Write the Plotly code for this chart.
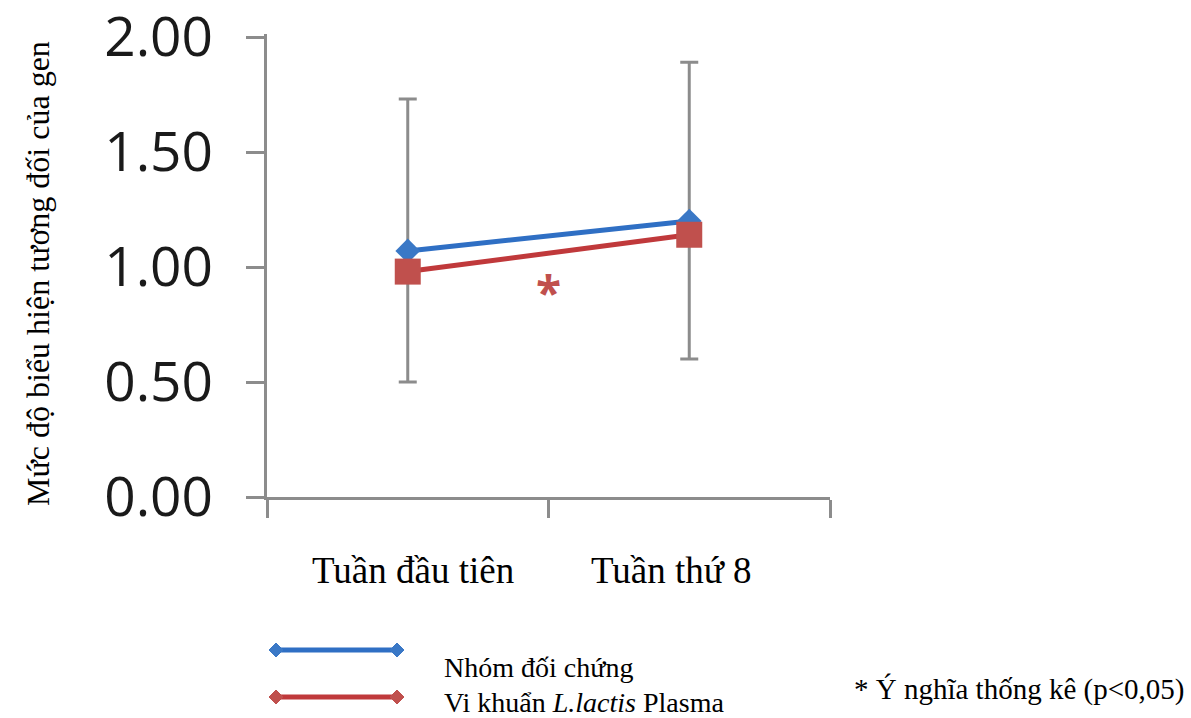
import plotly.graph_objects as go

# ---- data ----
categories = ["Tuần đầu tiên", "Tuần thứ 8"]
control_values = [1.07, 1.20]          # Nhóm đối chứng
lactis_values = [0.98, 1.14]           # Vi khuẩn L.lactis Plasma
err_upper = [1.73, 1.89]               # top of error bars
err_lower = [0.50, 0.60]               # bottom of error bars
y_tick_vals = [0.0, 0.5, 1.0, 1.5, 2.0]
y_tick_text = ["0.00", "0.50", "1.00", "1.50", "2.00"]
series_names = ["Nhóm đối chứng", "Vi khuẩn <i>L.lactis</i> Plasma"]
y_title = "Mức độ biểu hiện tương đối của gen"
footnote = "* Ý nghĩa thống kê (p<0,05)"

W, H = 1191, 718
BLUE_LINE = "#2F6FC4"
BLUE_MK = "#3A78C6"
RED_LINE = "#C0393B"
RED_MK = "#C0504D"
GRAY = "#8C8C8C"
SERIF = "Liberation Serif, Times New Roman, serif"
SANS = "Open Sans, Noto Sans, sans-serif"

Y_MAX = 2.012
Y0_PX, UNIT_PX = 497, 230

def px(x):
    return x / W

def py(y):
    return 1 - y / H

err_plus = [u - v for u, v in zip(err_upper, control_values)]
err_minus = [v - l for v, l in zip(control_values, err_lower)]

fig = go.Figure()
fig.add_trace(go.Scatter(
    x=categories, y=control_values, mode="lines+markers", name=series_names[0],
    line=dict(color=BLUE_LINE, width=5),
    marker=dict(symbol="diamond", size=19, color=BLUE_MK),
    error_y=dict(type="data", symmetric=False, array=err_plus, arrayminus=err_minus,
                 color=GRAY, thickness=3, width=9),
    showlegend=False,
))
fig.add_trace(go.Scatter(
    x=categories, y=lactis_values, mode="lines+markers", name=series_names[1],
    line=dict(color=RED_LINE, width=5),
    marker=dict(symbol="square", size=26, color=RED_MK),
    showlegend=False,
))

annotations = []
# category labels
label_shift = [5, -18]
for c, s in zip(categories, label_shift):
    annotations.append(dict(x=c, xref="x", y=py(570), yref="paper", text=c, showarrow=False,
                            xanchor="center", yanchor="middle", xshift=s,
                            font=dict(family=SERIF, size=37, color="#000")))
# y title
annotations.append(dict(x=px(38), y=py(274), xref="paper", yref="paper", text=y_title,
                        textangle=-90, showarrow=False, xanchor="center", yanchor="middle",
                        font=dict(family=SERIF, size=32, color="#000")))
# significance star
annotations.append(dict(x=0.5, xref="x", y=0.91, yref="y", text="<b>*</b>", showarrow=False,
                        xanchor="center", yanchor="middle", yshift=-4,
                        font=dict(family=SANS, size=46, color=RED_MK)))
# legend texts
annotations.append(dict(x=px(442), y=py(667), xref="paper", yref="paper", text=series_names[0],
                        showarrow=False, xanchor="left", yanchor="middle",
                        font=dict(family=SERIF, size=28, color="#000")))
annotations.append(dict(x=px(442), y=py(702), xref="paper", yref="paper", text=series_names[1],
                        showarrow=False, xanchor="left", yanchor="middle",
                        font=dict(family=SERIF, size=28, color="#000")))
# footnote
annotations.append(dict(x=px(852), y=py(689), xref="paper", yref="paper", text=footnote,
                        showarrow=False, xanchor="left", yanchor="middle",
                        font=dict(family=SERIF, size=29, color="#000")))

# legend samples (shapes)
shapes = []
def legend_sample(y, line_color, mk_color):
    x0, x1 = 276, 397
    shapes.append(dict(type="line", xref="paper", yref="paper", x0=px(x0), x1=px(x1),
                       y0=py(y), y1=py(y), line=dict(color=line_color, width=5)))
    for xc in (x0, x1):
        d = 7
        path = (f"M {px(xc-d)},{py(y)} L {px(xc)},{py(y-d)} L {px(xc+d)},{py(y)} "
                f"L {px(xc)},{py(y+d)} Z")
        shapes.append(dict(type="path", xref="paper", yref="paper", path=path,
                           fillcolor=mk_color, line=dict(color=mk_color, width=1)))

legend_sample(650, BLUE_LINE, BLUE_MK)
legend_sample(697, RED_LINE, RED_MK)

fig.update_layout(
    width=W, height=H,
    margin=dict(l=0, r=0, t=0, b=0),
    paper_bgcolor="white", plot_bgcolor="white",
    template="none",
    annotations=annotations,
    shapes=shapes,
    xaxis=dict(
        type="category", domain=[px(267), px(830)], range=[-0.5, 1.5],
        showline=True, linecolor=GRAY, linewidth=3,
        ticks="outside", tickson="boundaries", ticklen=18, tickwidth=3, tickcolor=GRAY,
        showticklabels=False, showgrid=False, zeroline=False, automargin=False,
    ),
    yaxis=dict(
        domain=[py(Y0_PX), py(Y0_PX - Y_MAX * UNIT_PX)], range=[0, Y_MAX],
        showline=True, linecolor=GRAY, linewidth=3,
        ticks="outside", ticklen=18, tickwidth=3, tickcolor=GRAY,
        tickvals=y_tick_vals, ticktext=y_tick_text,
        tickfont=dict(family=SANS, size=55, color="#1A1A1A"),
        ticklabelstandoff=22, ticklabeloverflow="allow",
        showgrid=False, zeroline=False, automargin=False,
    ),
)

fig.write_html("out.html", config={"displayModeBar": False},
               post_script="document.body.style.margin='0px';")
